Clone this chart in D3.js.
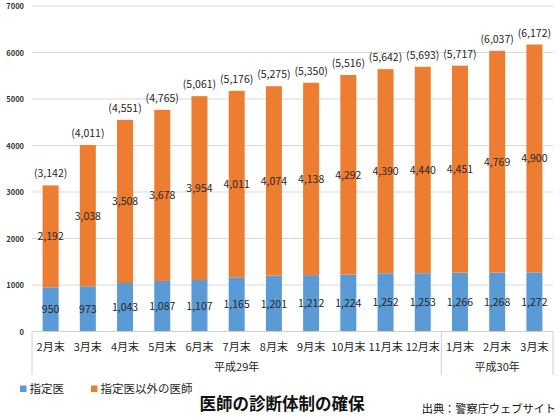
<!DOCTYPE html>
<html><head><meta charset="utf-8">
<script src="https://cdn.jsdelivr.net/npm/d3@7"></script>
<style>
body{margin:0;background:#fff;}
text{font-family:"Noto Sans CJK JP","Noto Sans",sans-serif;}
</style></head>
<body><svg id="c" width="560" height="420"></svg>
<script>
const categories = ["2月末","3月末","4月末","5月末","6月末","7月末","8月末","9月末","10月末","11月末","12月末","1月末","2月末","3月末"];
const designated = [950,973,1043,1087,1107,1165,1201,1212,1224,1252,1253,1266,1268,1272];
const others = [2192,3038,3508,3678,3954,4011,4074,4138,4292,4390,4440,4451,4769,4900];
const totals = [3142,4011,4551,4765,5061,5176,5275,5350,5516,5642,5693,5717,6037,6172];
const yTicks = [0,1000,2000,3000,4000,5000,6000,7000];
const groups = [{label:"平成29年", from:0, to:10},{label:"平成30年", from:11, to:13}];
const seriesNames = ["指定医","指定医以外の医師"];
const colors = ["#5B9BD5","#ED7D31"];

const svg = d3.select("#c");
const L=32, R=553, T=6, B=331.5;
const idx = categories.map((d,i)=>i);
const x = d3.scaleBand().domain(idx).range([L,R]).paddingInner(0.57).paddingOuter(0.285);
const y = d3.scaleLinear().domain([0,7000]).range([B,T]);
const fmt = d3.format(",");

// gridlines
svg.append("g").selectAll("line").data(yTicks.filter(d=>d>0)).join("line")
  .attr("x1",L).attr("x2",R).attr("y1",d=>y(d)).attr("y2",d=>y(d))
  .attr("stroke","#d9d9d9").attr("stroke-width",1);

// y labels
svg.append("g").selectAll("text").data(yTicks).join("text")
  .attr("x",24).attr("y",d=>y(d)+3).attr("text-anchor","end")
  .attr("font-size",7.5).attr("font-weight",700).attr("fill","#333").text(d=>d);

// bars
svg.append("g").selectAll("rect").data(idx).join("rect")
  .attr("x",i=>x(i)).attr("width",x.bandwidth())
  .attr("y",i=>y(designated[i])).attr("height",i=>B-y(designated[i]))
  .attr("fill",colors[0]);
svg.append("g").selectAll("rect").data(idx).join("rect")
  .attr("x",i=>x(i)).attr("width",x.bandwidth())
  .attr("y",i=>y(designated[i]+others[i])).attr("height",i=>y(designated[i])-y(designated[i]+others[i]))
  .attr("fill",colors[1]);

// axis line
svg.append("line").attr("x1",L).attr("x2",R).attr("y1",B).attr("y2",B).attr("stroke","#d0d0d0");

// data labels
const lab = svg.append("g").attr("font-size",10.5).attr("fill","#262626").attr("text-anchor","middle");
lab.selectAll(".b").data(idx).join("text").attr("class","b")
  .attr("x",i=>x(i)+x.bandwidth()/2).attr("y",i=>y(designated[i]/2)+4).text(i=>fmt(designated[i]));
lab.selectAll(".o").data(idx).join("text").attr("class","o")
  .attr("x",i=>x(i)+x.bandwidth()/2).attr("y",i=>y(designated[i]+others[i]/2)+4).text(i=>fmt(others[i]));
lab.selectAll(".t").data(idx).join("text").attr("class","t")
  .attr("x",i=>x(i)+x.bandwidth()/2).attr("y",i=>y(totals[i])-8).text(i=>"("+fmt(totals[i])+")");

// category labels
svg.append("g").selectAll("text").data(idx).join("text")
  .attr("x",i=>x(i)+x.bandwidth()/2).attr("y",351).attr("text-anchor","middle")
  .attr("font-size",11).attr("fill","#262626").text(i=>categories[i]);

// group separators
const step = x.step();
const bounds = [L];
groups.forEach(g=>bounds.push(x(g.to)+x.bandwidth()/2+step/2));
svg.append("g").selectAll("line").data(bounds).join("line")
  .attr("x1",d=>d).attr("x2",d=>d).attr("y1",B).attr("y2",375)
  .attr("stroke","#d0d0d0");
svg.append("g").selectAll("text").data(groups).join("text")
  .attr("x",g=>{const a=x(g.from)-(step-x.bandwidth())/2, b=x(g.to)+x.bandwidth()+(step-x.bandwidth())/2; return (a+b)/2;})
  .attr("y",371).attr("text-anchor","middle").attr("font-size",11).attr("fill","#262626").text(g=>g.label);

// legend
const lg = svg.append("g");
const lx = [20,91];
seriesNames.forEach((n,i)=>{
  lg.append("rect").attr("x",lx[i]).attr("y",385.5).attr("width",6.5).attr("height",6.5).attr("fill",colors[i]);
  lg.append("text").attr("x",lx[i]+9.5).attr("y",393).attr("font-size",11.5).attr("fill","#262626").text(n);
});

// title and source
svg.append("text").attr("x",282).attr("y",410).attr("text-anchor","middle")
  .attr("font-size",16.5).attr("font-weight",700).attr("fill","#111").text("医師の診断体制の確保");
svg.append("text").attr("x",556).attr("y",413).attr("text-anchor","end")
  .attr("font-size",11.2).attr("fill","#111").text("出典：警察庁ウェブサイト");
</script></body></html>
